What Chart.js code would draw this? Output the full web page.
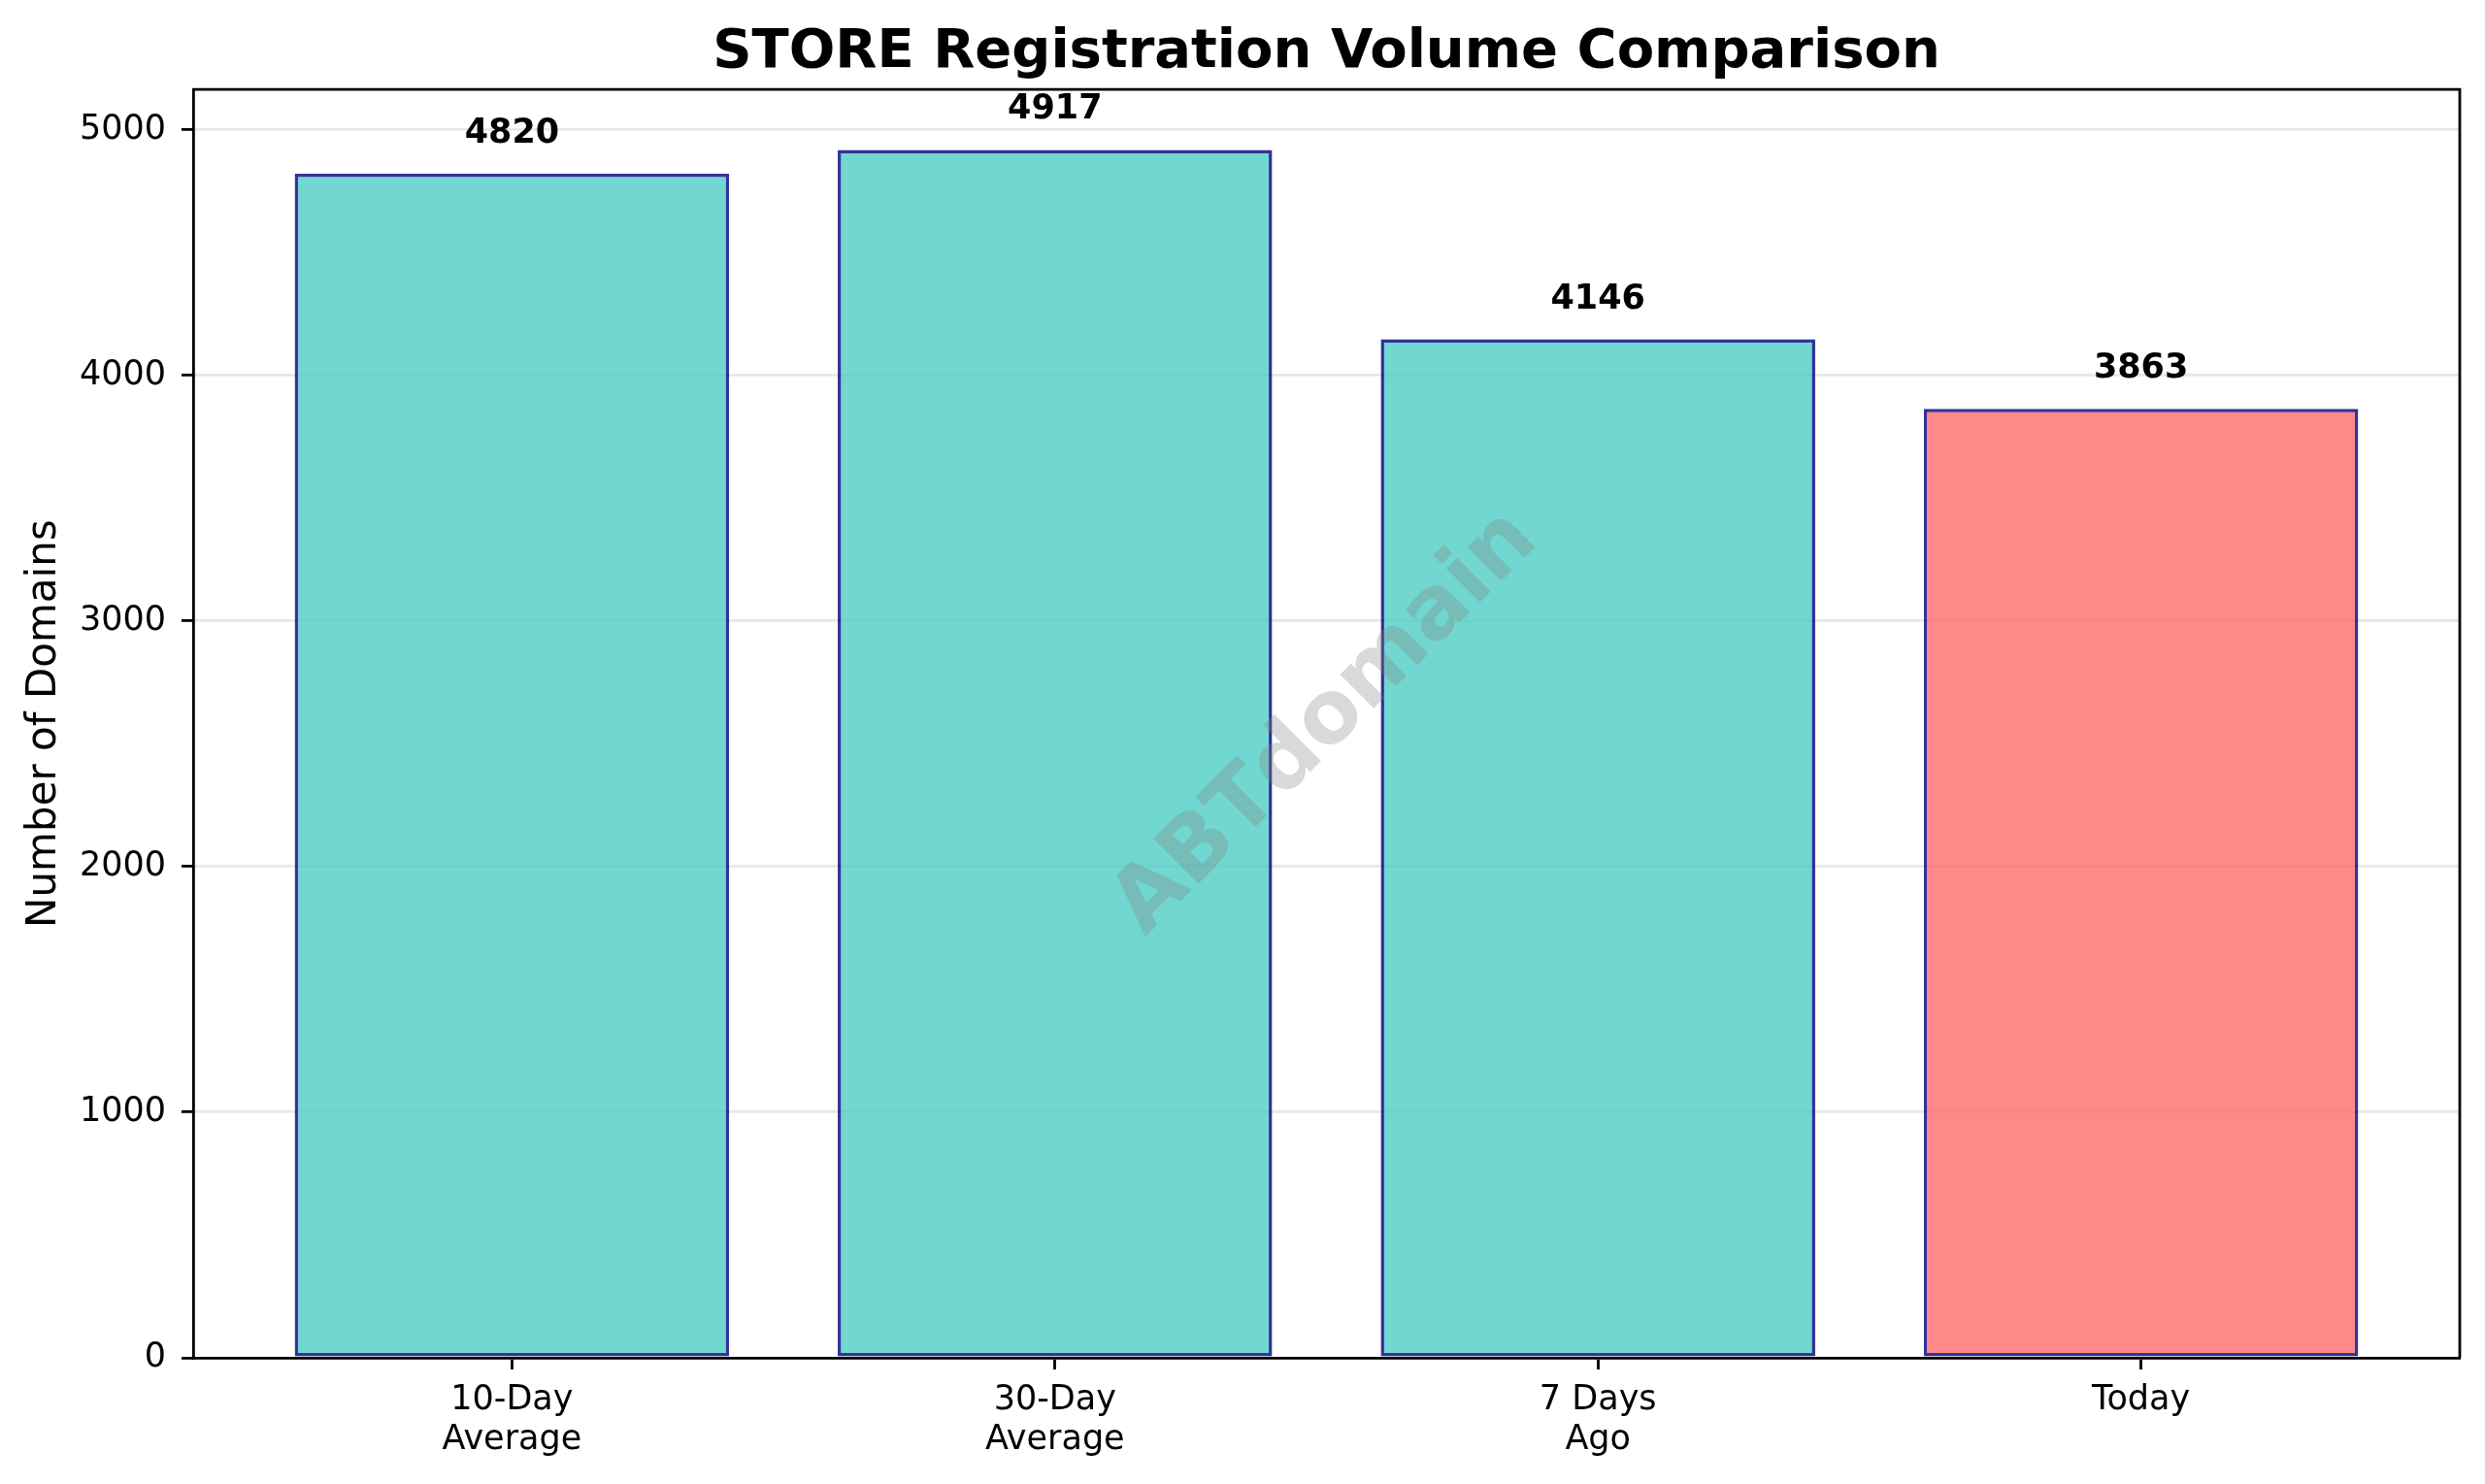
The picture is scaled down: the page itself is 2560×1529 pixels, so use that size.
<!DOCTYPE html>
<html>
<head>
<meta charset="utf-8">
<script src="https://cdn.jsdelivr.net/npm/chart.js@4.4.0/dist/chart.umd.min.js"></script>
<style>
html, body { margin: 0; padding: 0; background: #fff; }
canvas { display: block; }
</style>
</head>
<body>
<canvas id="myChart" width="2560" height="1529"></canvas>
<script>
var categories = [['10-Day', 'Average'], ['30-Day', 'Average'], ['7 Days', 'Ago'], 'Today'];
var domainCounts = [4820, 4917, 4146, 3863];
var barColors = ['rgba(78,205,196,0.8)', 'rgba(78,205,196,0.8)', 'rgba(78,205,196,0.8)', 'rgba(255,107,107,0.8)'];
var yTicks = [0, 1000, 2000, 3000, 4000, 5000];

var FONT = 'DejaVu Sans';

// spines on top/right, watermark and the numbers above bars
var extras = {
    id: 'extras',
    afterDraw: function(chart) {
        var c = chart.ctx, a = chart.chartArea;
        c.save();
        c.strokeStyle = '#000';
        c.lineWidth = 2.8;
        c.beginPath();
        c.moveTo(a.left, a.top);
        c.lineTo(a.right, a.top);
        c.lineTo(a.right, a.bottom);
        c.stroke();

        c.translate((a.left + a.right) / 2, (a.top + a.bottom) / 2);
        c.rotate(-Math.PI / 4);
        c.font = 'bold 90px "' + FONT + '"';
        c.fillStyle = 'rgba(128,128,128,0.3)';
        c.textAlign = 'center';
        c.textBaseline = 'middle';
        c.fillText('ABTdomain', 0, 0);
        c.restore();

        var meta = chart.getDatasetMeta(0);
        c.save();
        c.font = 'bold 35px "' + FONT + '"';
        c.fillStyle = '#000';
        c.textAlign = 'center';
        c.textBaseline = 'alphabetic';
        meta.data.forEach(function(bar, i) {
            c.fillText(String(domainCounts[i]), bar.x, bar.y - 32);
        });
        c.restore();
    }
};

var ctx = document.getElementById('myChart').getContext('2d');
var myChart = new Chart(ctx, {
    type: 'bar',
    data: {
        datasets: [{
            data: domainCounts.map(function(v, i) { return { x: i, y: v }; }),
            backgroundColor: barColors,
            borderColor: 'rgba(0,0,128,0.8)',
            borderWidth: 3.5,
            borderSkipped: false,
            barPercentage: 0.8,
            categoryPercentage: 1
        }]
    },
    options: {
        responsive: false,
        devicePixelRatio: 1,
        animation: false,
        layout: { padding: { left: 0, right: 26, top: 0, bottom: 0 } },
        plugins: {
            legend: { display: false },
            tooltip: { enabled: false },
            title: {
                display: true,
                text: 'STORE Registration Volume Comparison',
                fullSize: false,
                color: '#000',
                font: { family: FONT, size: 56, weight: 'bold', lineHeight: 1.2 },
                padding: { top: 21, bottom: 4 }
            }
        },
        scales: {
            x: {
                type: 'linear',
                min: -0.587,
                max: 3.587,
                offset: false,
                z: 1,
                afterFit: function(s) { s.height = 130; },
                afterBuildTicks: function(s) {
                    s.ticks = categories.map(function(_, i) { return { value: i }; });
                },
                ticks: {
                    callback: function(v) { return categories[Math.round(v)]; },
                    color: '#000',
                    font: { family: FONT, size: 35, lineHeight: 1.18 },
                    padding: 11,
                    maxRotation: 0,
                    autoSkip: false
                },
                grid: { offset: false, drawOnChartArea: false, color: '#000', tickColor: '#000', tickWidth: 2.8, tickLength: 12 },
                border: { color: '#000', width: 2.8 }
            },
            y: {
                min: 0,
                max: 5163,
                z: 1,
                afterFit: function(s) { s.width = 199; },
                afterBuildTicks: function(s) {
                    s.ticks = yTicks.map(function(v) { return { value: v }; });
                },
                ticks: {
                    callback: function(v) { return String(v); },
                    color: '#000',
                    font: { family: FONT, size: 35 },
                    padding: 16
                },
                grid: { color: 'rgba(176,176,176,0.3)', lineWidth: 2.8, tickColor: '#000', tickWidth: 2.8, tickLength: 12 },
                border: { color: '#000', width: 2.8 },
                title: {
                    display: true,
                    text: 'Number of Domains',
                    color: '#000',
                    font: { family: FONT, size: 42 },
                    padding: { top: 21, bottom: 0 }
                }
            }
        }
    },
    plugins: [extras]
});
</script>
</body>
</html>
